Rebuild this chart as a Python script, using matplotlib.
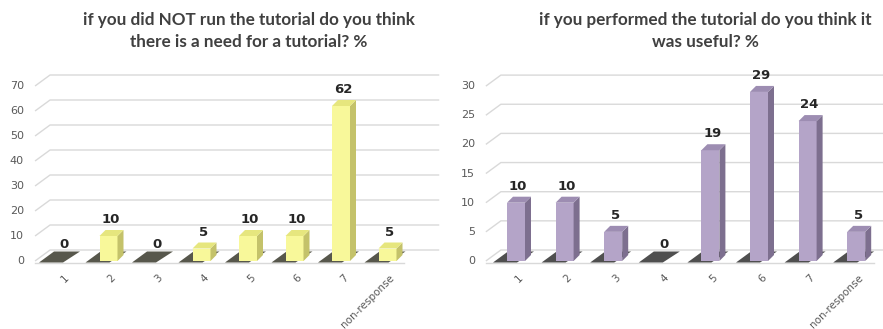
import matplotlib
matplotlib.use("Agg")
import matplotlib.pyplot as plt
from matplotlib.patches import Polygon

# data
categories = ["1", "2", "3", "4", "5", "6", "7", "non-response"]
need_values = [0, 10, 0, 5, 10, 10, 62, 5]
useful_values = [10, 10, 5, 0, 19, 29, 24, 5]
need_ticks = [0, 10, 20, 30, 40, 50, 60, 70]
useful_ticks = [0, 5, 10, 15, 20, 25, 30]
need_title = "if you did NOT run the tutorial do you think\nthere is a need for a tutorial? %"
useful_title = "if you performed the tutorial do you think it\nwas useful? %"

W, H = 883, 329
title_family = ["Lato", "DejaVu Sans"]

fig = plt.figure(figsize=(W / 100, H / 100), dpi=100)
fig.patch.set_facecolor("white")


def draw_chart(px0, px1, first_px, step_px, scale_px, values, ticks, colors, shadow):
    front, side, top = colors
    ax = fig.add_axes([px0 / W, 0, (px1 - px0) / W, (H - 50) / H])
    base_py = 261
    ax.set_xlim((px0 - first_px) / step_px, (px1 - first_px) / step_px)
    ax.set_ylim((base_py - H) / scale_px, (base_py - 50) / scale_px)
    ax.axis("off")

    ux = 1.0 / step_px   # data units per pixel
    uy = 1.0 / scale_px
    n = len(values)
    left = -0.58 if step_px < 47 else -0.62
    right = n - 0.64
    wdx, wdy = 15 * ux, 11 * uy
    lab_x = left - 11 * ux

    # floor
    fl = -1.5 * uy
    ax.add_patch(Polygon([(left, fl), (right, fl), (right + wdx, fl + wdy), (left + wdx, fl + wdy)],
                         closed=True, facecolor="white", edgecolor="none", zorder=1))
    ax.plot([left, right], [fl, fl], color="#d9d9d9", lw=1, zorder=1)

    # gridlines on wall with side diagonal
    for t in ticks:
        ax.plot([left, left + wdx, right + wdx + 20 * ux], [t, t + wdy, t + wdy],
                color="#d9d9d9", lw=1, zorder=1, solid_capstyle="butt")
        ax.text(lab_x, t, str(t), ha="right", va="center", fontsize=8, color="#595959")

    bw = 18 * ux
    bdx, bdy = 6 * ux, 6 * uy
    for i, v in enumerate(values):
        x0, x1 = i - bw / 2, i + bw / 2
        # shadow on floor
        ax.add_patch(Polygon([(x0 - 14 * ux, fl), (x1 - 8 * ux, fl),
                              (x1 + 9 * ux, fl + wdy), (x0 + 1 * ux, fl + wdy)],
                             closed=True, facecolor=shadow, edgecolor="none", alpha=0.85, zorder=2))
        if v > 0:
            ax.bar(i, v, width=bw, bottom=0, color=front, edgecolor="none", zorder=4)
            ax.add_patch(Polygon([(x1, 0), (x1 + bdx, bdy), (x1 + bdx, v + bdy), (x1, v)],
                                 closed=True, facecolor=side, edgecolor="none", zorder=4))
            ax.add_patch(Polygon([(x0, v), (x1, v), (x1 + bdx, v + bdy), (x0 + bdx, v + bdy)],
                                 closed=True, facecolor=top, edgecolor="none", zorder=4))
        ax.text(i + 2 * ux, v + bdy + 4 * uy, str(v), ha="center", va="bottom",
                fontsize=9.5, fontweight="bold", color="#262626", zorder=5)
        ax.text(i + 2 * ux, -12 * uy, categories[i], ha="right", va="top", rotation=45,
                rotation_mode="anchor", fontsize=7.5, color="#595959")
    return ax


draw_chart(0, 441, 62, 46.5, 2.5, need_values, need_ticks,
           ("#f8f89a", "#c4c26a", "#e6e67e"), "#3a3a2c")
draw_chart(441, 883, 516, 48.6, 5.83, useful_values, useful_ticks,
           ("#b4a4c8", "#7d6f8f", "#9d8db2"), "#303030")

fig.text(249 / W, 1 - 31 / H, need_title, ha="center", va="center", fontsize=12.3,
         fontweight="bold", color="#404040", family=title_family, linespacing=1.4)
fig.text(705 / W, 1 - 31 / H, useful_title, ha="center", va="center", fontsize=12.3,
         fontweight="bold", color="#404040", family=title_family, linespacing=1.4)

fig.savefig("out.png", dpi=100, facecolor="white")
